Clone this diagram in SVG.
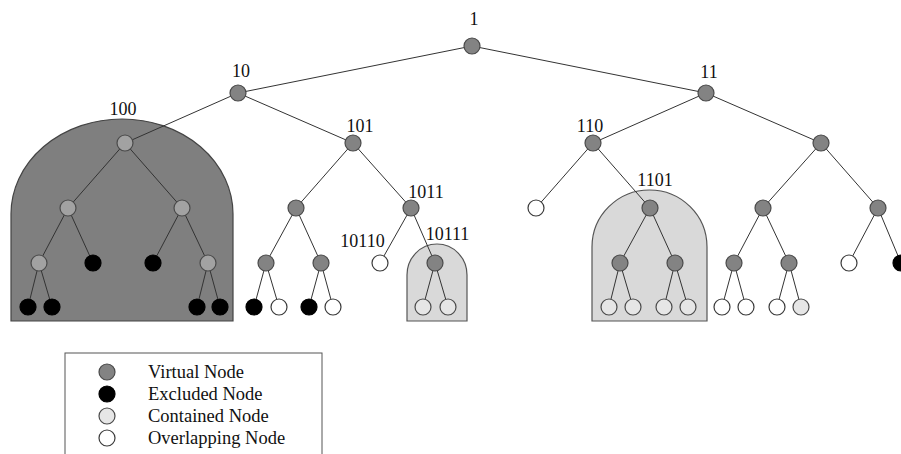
<svg xmlns="http://www.w3.org/2000/svg" width="901" height="454" viewBox="0 0 901 454">
<style>
  text { font-family: "Liberation Serif", "Times New Roman", serif; fill: #111; }
  .lbl { font-size: 18px; text-anchor: middle; }
  .leg { font-size: 18.5px; }
  .e line { stroke: #333; stroke-width: 1; }
  circle { stroke-width: 1.2; }
  .v { fill: #838383; stroke: #4a4a4a; }
  .vi { fill: #a2a2a2; stroke: #4a4a4a; }
  .x { fill: #000; stroke: #000; }
  .c { fill: #e6e6e6; stroke: #4a4a4a; }
  .o { fill: #fff; stroke: #3a3a3a; }
  .reg-dark { fill: #7f7f7f; stroke: #444; stroke-width: 1.2; }
  .reg-light { fill: #d9d9d9; stroke: #555; stroke-width: 1.2; }
</style>
<rect width="901" height="454" fill="#fff"/>
<g id="regions">
  <path class="reg-dark" d="M11,321 V214 A111,95 0 0 1 233,214 V321 Z"/>
  <path class="reg-light" d="M407,321 V275 A30,31 0 0 1 467,275 V321 Z"/>
  <path class="reg-light" d="M592,321 V247 A57.5,57 0 0 1 707,247 V321 Z"/>
</g>
<g id="connectors" class="e">
  <line x1="472" y1="46" x2="238" y2="93"/>
  <line x1="472" y1="46" x2="706" y2="93"/>
  <line x1="238" y1="93" x2="125" y2="143"/>
  <line x1="238" y1="93" x2="353" y2="143"/>
  <line x1="706" y1="93" x2="593" y2="143"/>
  <line x1="706" y1="93" x2="821" y2="143"/>
  <line x1="125" y1="143" x2="68" y2="208"/>
  <line x1="125" y1="143" x2="182" y2="208"/>
  <line x1="68" y1="208" x2="39" y2="263"/>
  <line x1="68" y1="208" x2="93" y2="263"/>
  <line x1="182" y1="208" x2="153" y2="263"/>
  <line x1="182" y1="208" x2="208" y2="263"/>
  <line x1="39" y1="263" x2="28" y2="307"/>
  <line x1="39" y1="263" x2="52" y2="307"/>
  <line x1="208" y1="263" x2="197" y2="307"/>
  <line x1="208" y1="263" x2="220" y2="307"/>
  <line x1="353" y1="143" x2="296" y2="208"/>
  <line x1="353" y1="143" x2="411" y2="208"/>
  <line x1="296" y1="208" x2="266" y2="263"/>
  <line x1="296" y1="208" x2="321" y2="263"/>
  <line x1="266" y1="263" x2="254" y2="307"/>
  <line x1="266" y1="263" x2="279" y2="307"/>
  <line x1="321" y1="263" x2="309" y2="307"/>
  <line x1="321" y1="263" x2="333" y2="307"/>
  <line x1="411" y1="208" x2="380" y2="263"/>
  <line x1="411" y1="208" x2="435" y2="263"/>
  <line x1="435" y1="263" x2="423" y2="307"/>
  <line x1="435" y1="263" x2="448" y2="307"/>
  <line x1="593" y1="143" x2="536" y2="208"/>
  <line x1="593" y1="143" x2="650" y2="208"/>
  <line x1="650" y1="208" x2="620" y2="263"/>
  <line x1="650" y1="208" x2="675" y2="263"/>
  <line x1="620" y1="263" x2="609" y2="307"/>
  <line x1="620" y1="263" x2="633" y2="307"/>
  <line x1="675" y1="263" x2="664" y2="307"/>
  <line x1="675" y1="263" x2="688" y2="307"/>
  <line x1="821" y1="143" x2="763" y2="208"/>
  <line x1="821" y1="143" x2="878" y2="208"/>
  <line x1="763" y1="208" x2="734" y2="263"/>
  <line x1="763" y1="208" x2="789" y2="263"/>
  <line x1="734" y1="263" x2="722" y2="307"/>
  <line x1="734" y1="263" x2="746" y2="307"/>
  <line x1="789" y1="263" x2="777" y2="307"/>
  <line x1="789" y1="263" x2="801" y2="307"/>
  <line x1="878" y1="208" x2="849" y2="263"/>
  <line x1="878" y1="208" x2="901" y2="263"/>
</g>
<g id="n1"><circle class="v" cx="472" cy="46" r="8"/><text class="lbl" x="474" y="25">1</text></g>
<g id="n10"><circle class="v" cx="238" cy="93" r="8"/><text class="lbl" x="241" y="77">10</text></g>
<g id="n11"><circle class="v" cx="706" cy="93" r="8"/><text class="lbl" x="709" y="77.5">11</text></g>
<g id="n100"><circle class="vi" cx="125" cy="143" r="8"/><text class="lbl" x="123" y="115">100</text></g>
<g id="n101"><circle class="v" cx="353" cy="143" r="8"/><text class="lbl" x="360" y="131.5">101</text></g>
<g id="n110"><circle class="v" cx="593" cy="143" r="8"/><text class="lbl" x="590" y="131.5">110</text></g>
<g id="n111"><circle class="v" cx="821" cy="143" r="8"/></g>
<g id="n1000"><circle class="vi" cx="68" cy="208" r="8"/></g>
<g id="n1001"><circle class="vi" cx="182" cy="208" r="8"/></g>
<g id="n10000"><circle class="vi" cx="39" cy="263" r="8"/></g>
<g id="n10001"><circle class="x" cx="93" cy="263" r="8"/></g>
<g id="n10010"><circle class="x" cx="153" cy="263" r="8"/></g>
<g id="n10011"><circle class="vi" cx="208" cy="263" r="8"/></g>
<g id="n100000"><circle class="x" cx="28" cy="307" r="8"/></g>
<g id="n100001"><circle class="x" cx="52" cy="307" r="8"/></g>
<g id="n100110"><circle class="x" cx="197" cy="307" r="8"/></g>
<g id="n100111"><circle class="x" cx="220" cy="307" r="8"/></g>
<g id="n1010"><circle class="v" cx="296" cy="208" r="8"/></g>
<g id="n1011"><circle class="v" cx="411" cy="208" r="8"/><text class="lbl" x="426" y="197.5">1011</text></g>
<g id="n10100"><circle class="v" cx="266" cy="263" r="8"/></g>
<g id="n10101"><circle class="v" cx="321" cy="263" r="8"/></g>
<g id="n101000"><circle class="x" cx="254" cy="307" r="8"/></g>
<g id="n101001"><circle class="o" cx="279" cy="307" r="8"/></g>
<g id="n101010"><circle class="x" cx="309" cy="307" r="8"/></g>
<g id="n101011"><circle class="o" cx="333" cy="307" r="8"/></g>
<g id="n10110"><circle class="o" cx="380" cy="263" r="8"/><text class="lbl" x="362.5" y="246.5">10110</text></g>
<g id="n10111"><circle class="v" cx="435" cy="263" r="8"/><text class="lbl" x="447.5" y="240">10111</text></g>
<g id="n101110"><circle class="c" cx="423" cy="307" r="8"/></g>
<g id="n101111"><circle class="c" cx="448" cy="307" r="8"/></g>
<g id="n1100"><circle class="o" cx="536" cy="208" r="8"/></g>
<g id="n1101"><circle class="v" cx="650" cy="208" r="8"/><text class="lbl" x="655" y="186">1101</text></g>
<g id="n11010"><circle class="v" cx="620" cy="263" r="8"/></g>
<g id="n11011"><circle class="v" cx="675" cy="263" r="8"/></g>
<g id="n110100"><circle class="c" cx="609" cy="307" r="8"/></g>
<g id="n110101"><circle class="c" cx="633" cy="307" r="8"/></g>
<g id="n110110"><circle class="c" cx="664" cy="307" r="8"/></g>
<g id="n110111"><circle class="c" cx="688" cy="307" r="8"/></g>
<g id="n1110"><circle class="v" cx="763" cy="208" r="8"/></g>
<g id="n1111"><circle class="v" cx="878" cy="208" r="8"/></g>
<g id="n11100"><circle class="v" cx="734" cy="263" r="8"/></g>
<g id="n11101"><circle class="v" cx="789" cy="263" r="8"/></g>
<g id="n111000"><circle class="o" cx="722" cy="307" r="8"/></g>
<g id="n111001"><circle class="o" cx="746" cy="307" r="8"/></g>
<g id="n111010"><circle class="o" cx="777" cy="307" r="8"/></g>
<g id="n111011"><circle class="c" cx="801" cy="307" r="8"/></g>
<g id="n11110"><circle class="o" cx="849" cy="263" r="8"/></g>
<g id="n11111"><circle class="x" cx="901" cy="263" r="8"/></g>
<g id="legend">
  <rect x="65" y="353" width="257" height="115" fill="#fff" stroke="#555" stroke-width="1"/>
  <circle class="v" cx="107" cy="372" r="8"/>
  <circle class="x" cx="107" cy="394" r="8"/>
  <circle class="c" cx="107" cy="416" r="8"/>
  <circle class="o" cx="107" cy="438" r="8"/>
  <text class="leg" x="148" y="378">Virtual Node</text>
  <text class="leg" x="148" y="400">Excluded Node</text>
  <text class="leg" x="148" y="422">Contained Node</text>
  <text class="leg" x="148" y="444">Overlapping Node</text>
</g>
</svg>
